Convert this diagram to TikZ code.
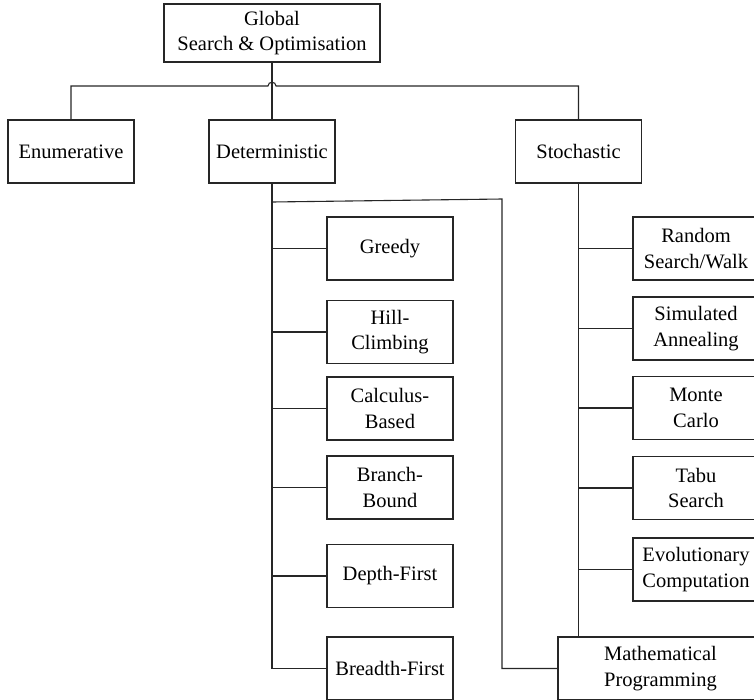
\documentclass[tikz,border=0pt]{standalone}
\usepackage{fontspec}
\setmainfont{Liberation Serif}
\begin{document}
\begin{tikzpicture}[x=1pt,y=-1pt,
  box/.style={draw=black!85, line width=1.1pt, fill=white, inner sep=0pt,
    align=center, font=\fontsize{20.5}{25.5}\selectfont,
    minimum width=126pt, minimum height=63pt},
  link/.style={draw=black!85, line width=1.1pt}]
\useasboundingbox (0,0) rectangle (754,699);
\clip (0,0) rectangle (754,699);

% root and first level
\node[box, minimum width=216pt, minimum height=58pt] (root) at (272,33) {Global\\Search \& Optimisation};
\node[box] (enum) at (71,151.5) {Enumerative};
\node[box] (det) at (272,151.5) {Deterministic};
\node[box] (sto) at (578.5,151.5) {Stochastic};

% deterministic methods
\node[box] (greedy) at (390,248.5) {Greedy};
\node[box] (hill) at (390,332) {Hill-\\Climbing};
\node[box] (calc) at (390,408.5) {Calculus-\\Based};
\node[box] (bb) at (390,487.5) {Branch-\\Bound};
\node[box] (dfs) at (390,576) {Depth-First};
\node[box] (bfs) at (390,668.5) {Breadth-First};

% stochastic methods
\node[box] (rnd) at (696,248.5) {Random\\Search/Walk};
\node[box] (sa) at (696,328.5) {Simulated\\Annealing};
\node[box] (mc) at (696,408) {Monte\\Carlo};
\node[box] (tabu) at (696,488) {Tabu\\Search};
\node[box] (ec) at (696,569.5) {Evolutionary\\Computation};
\node[box, minimum width=205pt] (mp) at (660.5,668.5) {Mathematical\\Programming};

% first-level connectors, with a hop over the root stem
\coordinate (hopL) at (268,86);
\coordinate (hopR) at (276,86);
\draw[link] (root.south) -- (det.north);
\draw[link] (enum.north) |- (hopL) .. controls +(0,-5) and +(0,-5) .. (hopR)
  -- (hopR -| sto.north) -- (sto.north);

% deterministic trunk and branches
\draw[link] (det.south) |- (bfs.west);
\foreach \n in {greedy,hill,calc,bb,dfs}
  \draw[link] (det.south |- \n.west) -- (\n.west);
\coordinate (kA) at (272,202);
\coordinate (kB) at (502,199);
\draw[link] (kA) -- (kB) -- (kB |- mp.west) -- (mp.west);

% stochastic trunk and branches
\draw[link] (sto.south) -- (sto.south |- mp.north);
\foreach \n in {rnd,sa,mc,tabu,ec}
  \draw[link] (sto.south |- \n.west) -- (\n.west);
\end{tikzpicture}
\end{document}
